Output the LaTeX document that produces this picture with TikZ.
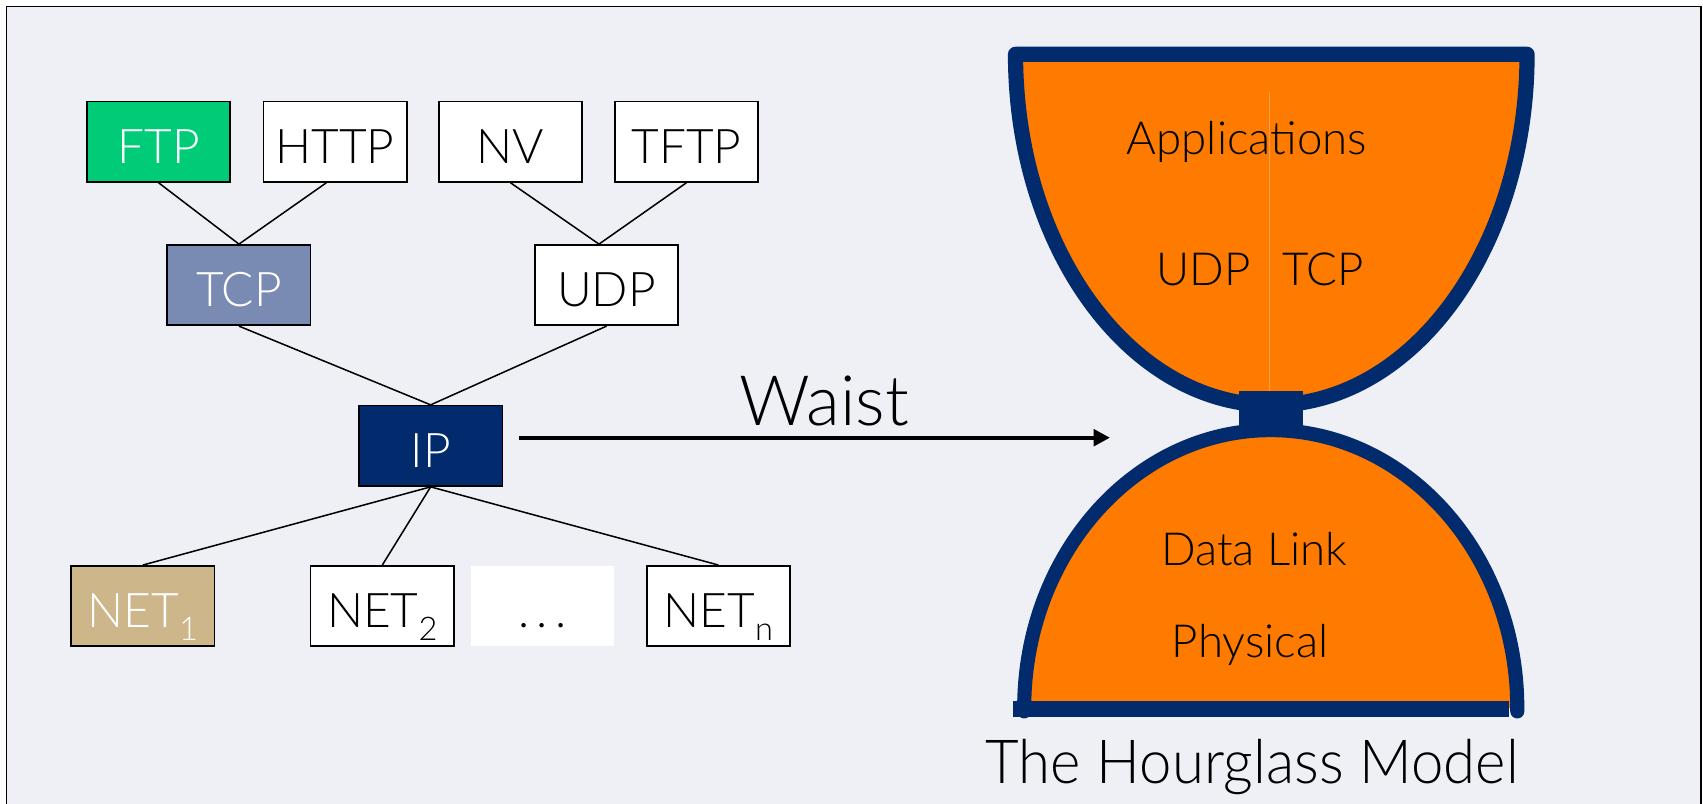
\documentclass[tikz,border=0pt]{standalone}
\usepackage{fontspec}
\setmainfont{Lato Light}
\usetikzlibrary{arrows.meta}
\definecolor{bg}{HTML}{EEF0F5}
\definecolor{ftpgreen}{HTML}{00CC77}
\definecolor{tcpblue}{HTML}{7A8BB3}
\definecolor{navy}{HTML}{012B6C}
\definecolor{nettan}{HTML}{CDB68A}
\definecolor{glassorange}{HTML}{FF7B00}
\definecolor{seam}{HTML}{FFA04A}
\newcommand\netsub[1]{\raisebox{-12pt}{\fontsize{30}{30}\selectfont #1}}
\begin{document}
\begin{tikzpicture}[x=1pt,y=-1pt,
  proto/.style={draw=black,line width=1.5pt,fill=white,minimum width=132pt,
    minimum height=74pt,inner sep=0pt,text height=40pt,text depth=0pt,
    font=\fontsize{44}{44}\selectfont},
  link/.style={line width=1.4pt},
  layer/.style={anchor=base,inner sep=0pt,font=\fontsize{42}{42}\selectfont}]
\useasboundingbox (0,0) rectangle (1568,740);
\fill[white] (0,0) rectangle (1568,740);
\draw[fill=bg,line width=1.6pt] (6,6) rectangle (1566,780);

% protocol tree
\node[proto,fill=ftpgreen,text=white] (ftp)  at (146,130.5) {FTP};
\node[proto] (http) at (308.5,130.5) {HTTP};
\node[proto] (nv)   at (470,130.5) {NV};
\node[proto] (tftp) at (632,130.5) {TFTP};
\node[proto,fill=tcpblue,text=white] (tcp) at (220,262.5) {TCP};
\node[proto] (udp) at (558.5,262.5) {UDP};
\node[proto,fill=navy,text=white] (ip) at (396.5,410.5) {IP};
\node[proto,fill=nettan,text=white] (net1) at (131.5,558) {NET\netsub{1}};
\node[proto] (net2) at (352,558) {NET\netsub{2}};
\node[proto,draw=none] (dots) at (499.5,558) {.\hspace{7pt}.\hspace{7pt}.};
\node[proto] (netn) at (661.5,558) {NET\netsub{n}};

\draw[link] (ftp.south) -- (tcp.north);
\draw[link] ([xshift=-8pt]http.south) -- (tcp.north);
\draw[link] (nv.south) -- ([xshift=-7pt]udp.north);
\draw[link] (tftp.south) -- ([xshift=-7pt]udp.north);
\draw[link] (tcp.south) -- (ip.north);
\draw[link] (udp.south) -- (ip.north);
\draw[link] (ip.south) -- (net1.north);
\draw[link] (ip.south) -- (net2.north);
\draw[link] (ip.south) -- (netn.north);

% waist arrow
\coordinate (waistL) at (478,403);
\coordinate (waistR) at (1022,403);
\draw[line width=3.8pt,-{Triangle[length=15pt,width=15pt]}] (waistL) -- (waistR);
\node[anchor=base,inner sep=0pt,font=\fontsize{64}{64}\selectfont] (waist) at (759,392) {Waist};

% hourglass: upper bowl
\filldraw[fill=glassorange,draw=navy,line width=14pt,line join=round]
  (1406,50) arc[start angle=0,end angle=180,x radius=235.5,y radius=323] -- cycle;
\draw[seam,line width=0.8pt] (1169,85) -- (1169,360);
% hourglass: lower dome
\fill[glassorange] (1397,652) arc[start angle=0,end angle=-180,x radius=227,y radius=256] -- cycle;
\draw[navy,line width=13pt,line cap=round]
  (1397,655) -- (1397,652) arc[start angle=0,end angle=-180,x radius=227,y radius=256] -- (943,655);
\fill[navy] (933,645) rectangle (1389,660);
% neck
\fill[navy] (1141,360) rectangle (1200,392);

\node[layer] (apps) at (1148,142) {Applications};
\node[layer] (hudp) at (1108,263) {UDP};
\node[layer] (htcp) at (1218,263) {TCP};
\node[layer] (dlink) at (1155,521) {Data Link};
\node[layer] (phys) at (1151,605) {Physical};
\node[anchor=base,inner sep=0pt,font=\fontsize{56}{56}\selectfont] (title) at (1153,721)
  {\scalebox{0.955}[1]{The Hourglass Model}};
\end{tikzpicture}
\end{document}
